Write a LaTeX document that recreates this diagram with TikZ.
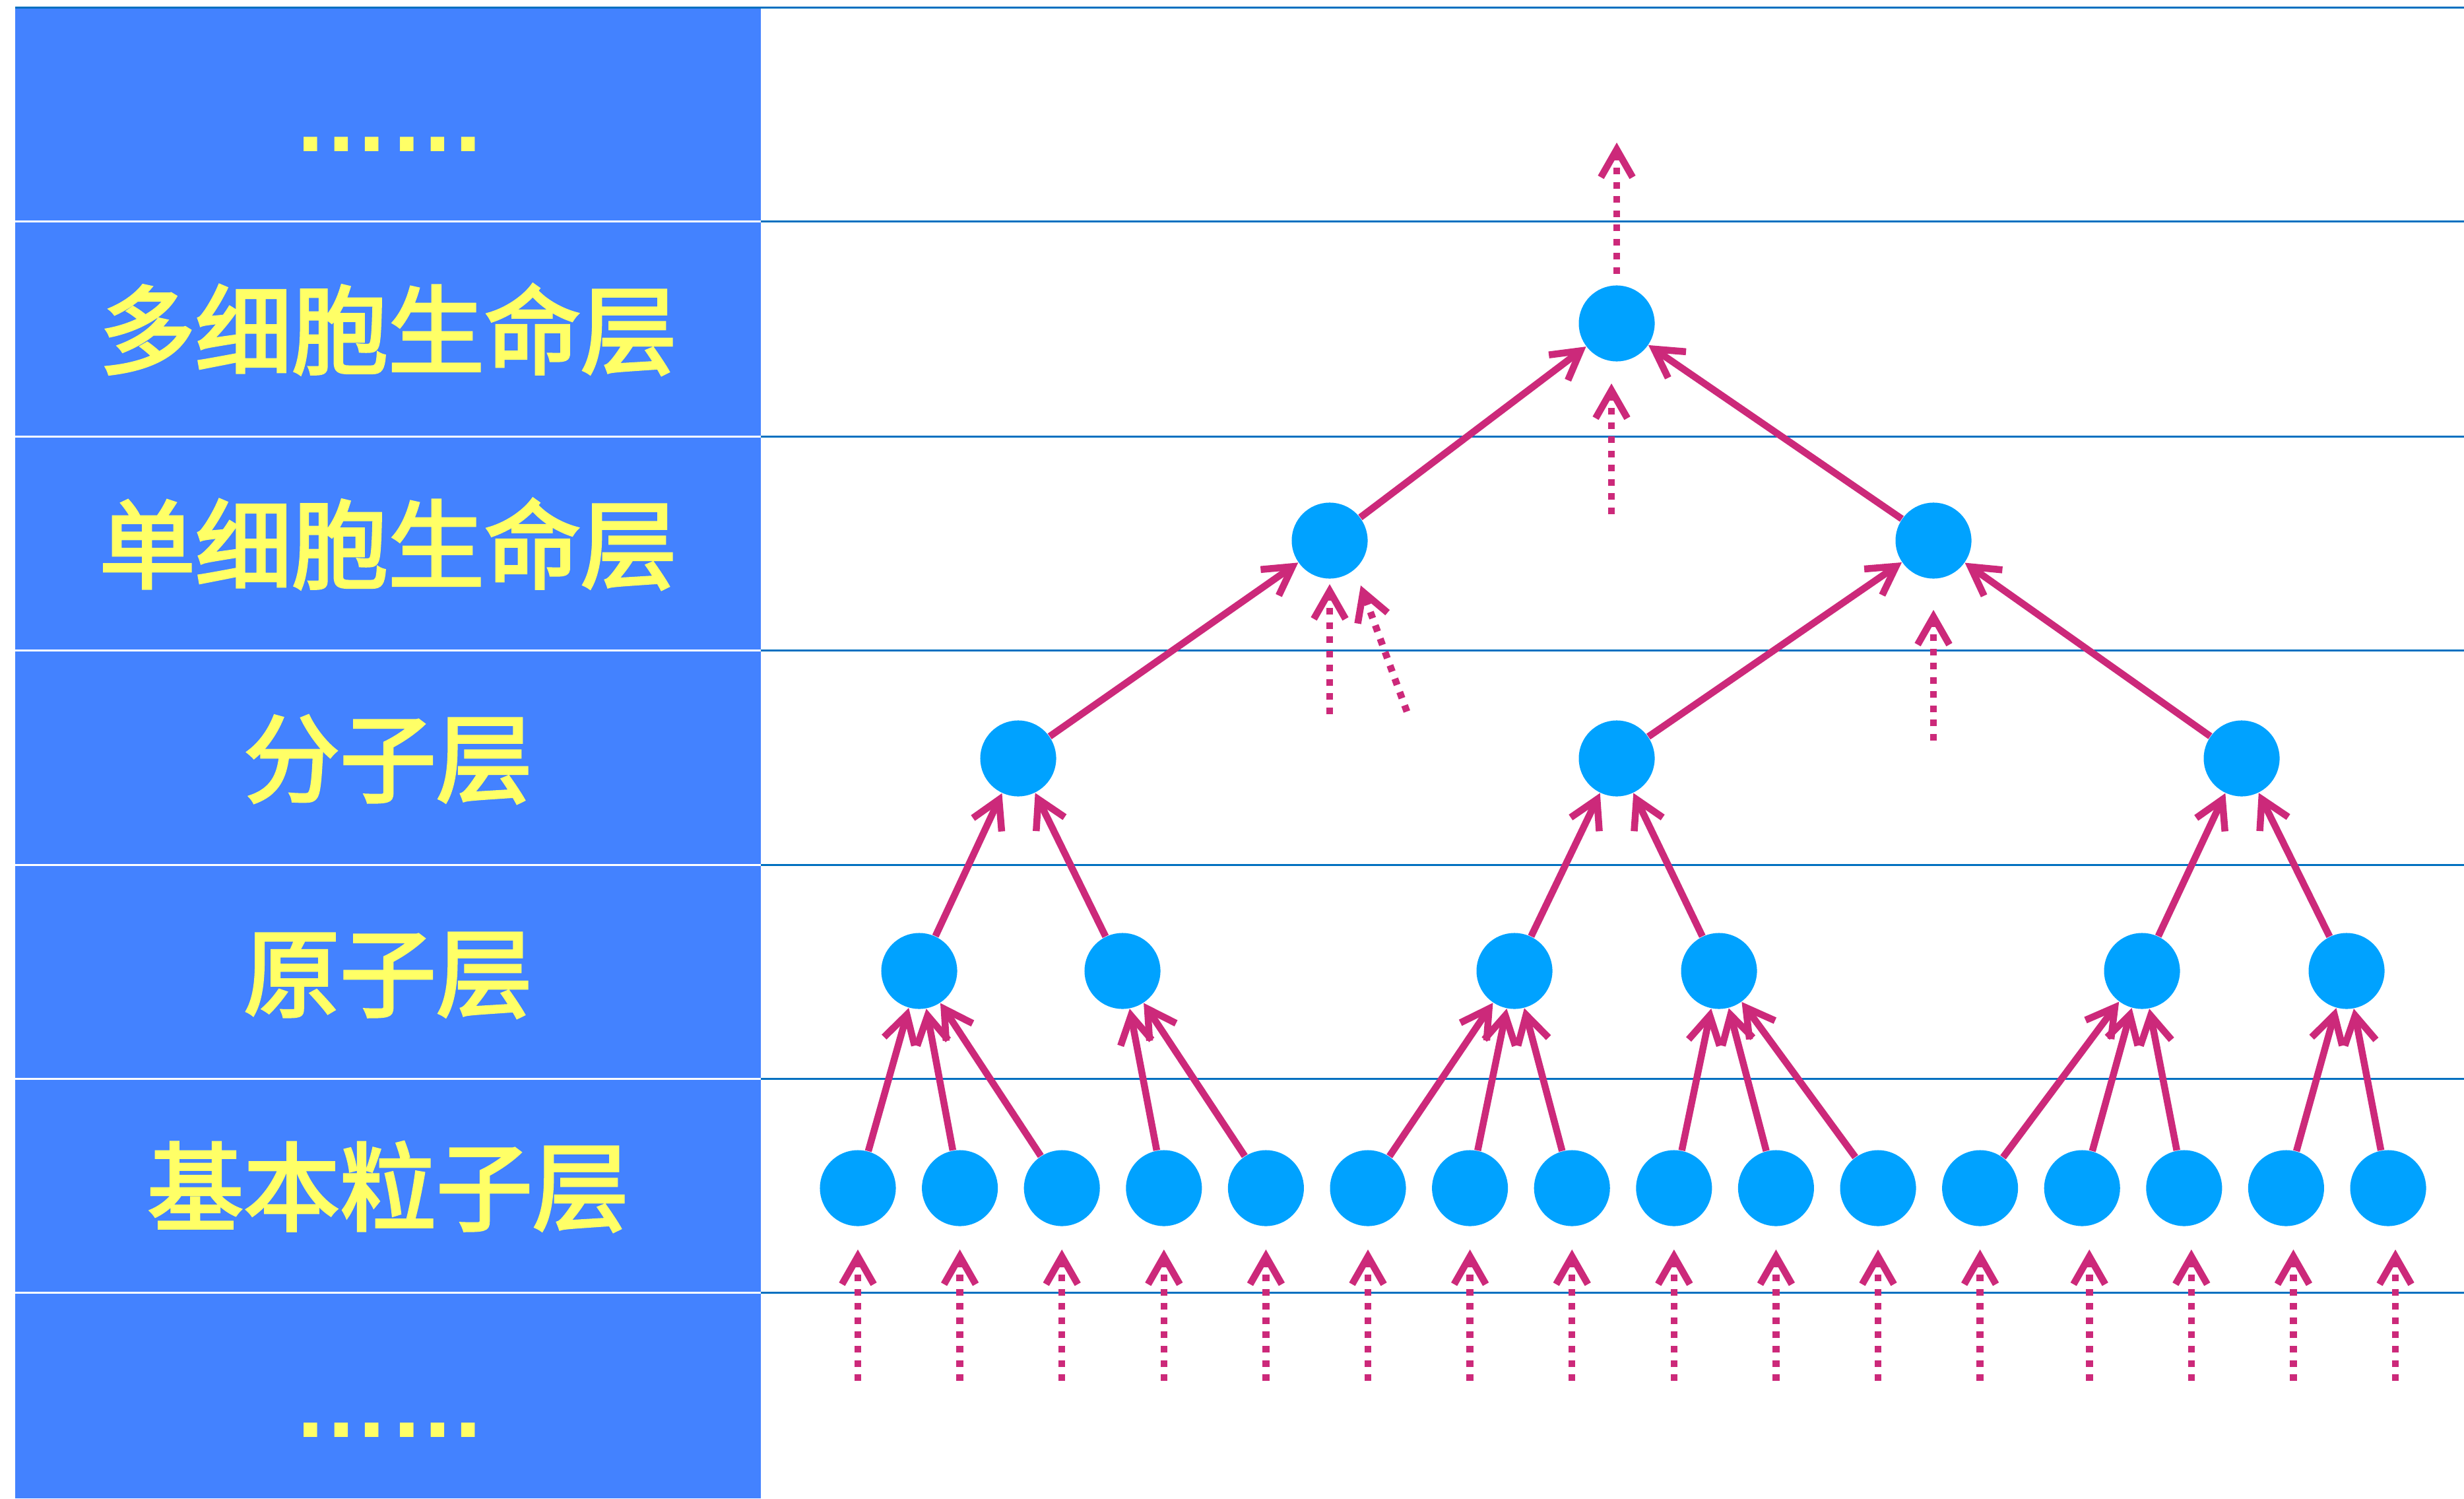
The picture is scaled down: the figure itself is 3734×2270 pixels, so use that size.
\documentclass[tikz,border=0pt]{standalone}
\usepackage{fontspec}
\newfontfamily\cjk{Noto Sans CJK SC}[FakeBold=2.8]
\newfontfamily\dotsfont{Liberation Sans}
\usetikzlibrary{arrows.meta}
\definecolor{panelblue}{RGB}{67,130,255}
\definecolor{txtyellow}{RGB}{255,255,102}
\definecolor{ruleblue}{RGB}{0,112,192}
\definecolor{nodeblue}{RGB}{0,162,255}
\definecolor{arrowred}{RGB}{204,41,122}
\begin{document}
\begin{tikzpicture}[x=0.01cm,y=-0.01cm,
  ball/.style={circle,fill=nodeblue,minimum size=1.15cm,inner sep=0pt},
  link/.style={draw=arrowred,line width=0.105cm,-{Straight Barb[length=0.42cm,width=0.48cm]}},
  dlink/.style={link,dash pattern=on 0.1cm off 0.115cm},
  lab/.style={text=txtyellow,font=\cjk\fontsize{41.5pt}{50pt}\selectfont,anchor=base,inner sep=0pt},
  dotlab/.style={text=txtyellow,font=\dotsfont\bfseries\fontsize{41.5pt}{50pt}\selectfont,anchor=base,inner sep=0pt},
  rulerline/.style={draw=ruleblue,line width=0.03cm},
  whiteline/.style={draw=white,line width=0.03cm}]
\useasboundingbox (0,0) rectangle (3734,2270);
% left panel
\fill[panelblue] (23,12) rectangle (1153,2270);
\draw[rulerline] (23,12) -- (3734,12);
\foreach \y in {336,661,985,1310,1634,1958}{
  \draw[whiteline] (23,\y) -- (1153,\y);
  \draw[rulerline] (1153,\y) -- (3734,\y);
}
% labels
\node[dotlab] (l0) at (590,230) {……};
\node[lab] (l1) at (588,555) {多细胞生命层};
\node[lab] (l2) at (588,880) {单细胞生命层};
\node[lab] (l3) at (588,1204) {分子层};
\node[lab] (l4) at (588,1529) {原子层};
\node[lab] (l5) at (588,1853) {基本粒子层};
\node[dotlab] (l6) at (590,2177) {……};
% nodes
\node[ball] (m) at (2450,490) {};
\node[ball] (s1) at (2015,819) {};
\node[ball] (s2) at (2930,819) {};
\node[ball] (g1) at (1543,1149) {};
\node[ball] (g2) at (2450,1149) {};
\node[ball] (g3) at (3397,1149) {};
\node[ball] (a1) at (1393,1471) {};
\node[ball] (a2) at (1701,1471) {};
\node[ball] (a3) at (2295,1471) {};
\node[ball] (a4) at (2605,1471) {};
\node[ball] (a5) at (3246,1471) {};
\node[ball] (a6) at (3556,1471) {};
\foreach \i in {0,...,15}
  \node[ball] (p\i) at ({1300+154.6*\i},1800) {};
% solid links
\foreach \c/\p in {s1/m,s2/m,g1/s1,g2/s2,g3/s2,a1/g1,a2/g1,a3/g2,a4/g2,a5/g3,a6/g3,
  p0/a1,p1/a1,p2/a1,p3/a2,p4/a2,p5/a3,p6/a3,p7/a3,p8/a4,p9/a4,p10/a4,
  p11/a5,p12/a5,p13/a5,p14/a6,p15/a6}
  \draw[link] (\c) -- (\p);
% dashed arrows
\coordinate (u0) at (2450,415); \coordinate (u1) at (2450,216);
\draw[dlink] (u0) -- (u1);
\coordinate (v0) at (2442,779); \coordinate (v1) at (2442,581);
\draw[dlink] (v0) -- (v1);
\coordinate (w0) at (2015,1082); \coordinate (w1) at (2015,885);
\draw[dlink] (w0) -- (w1);
\coordinate (x0) at (2132,1078); \coordinate (x1) at (2062,887);
\draw[dlink] (x0) -- (x1);
\coordinate (y0) at (2930,1122); \coordinate (y1) at (2930,924);
\draw[dlink] (y0) -- (y1);
\foreach \i in {0,...,15}{
  \coordinate (b\i) at ({1300+154.6*\i+11*(\i>11)},2092);
  \coordinate (c\i) at ({1300+154.6*\i+11*(\i>11)},1893);
  \draw[dlink] (b\i) -- (c\i);
}
\end{tikzpicture}
\end{document}
